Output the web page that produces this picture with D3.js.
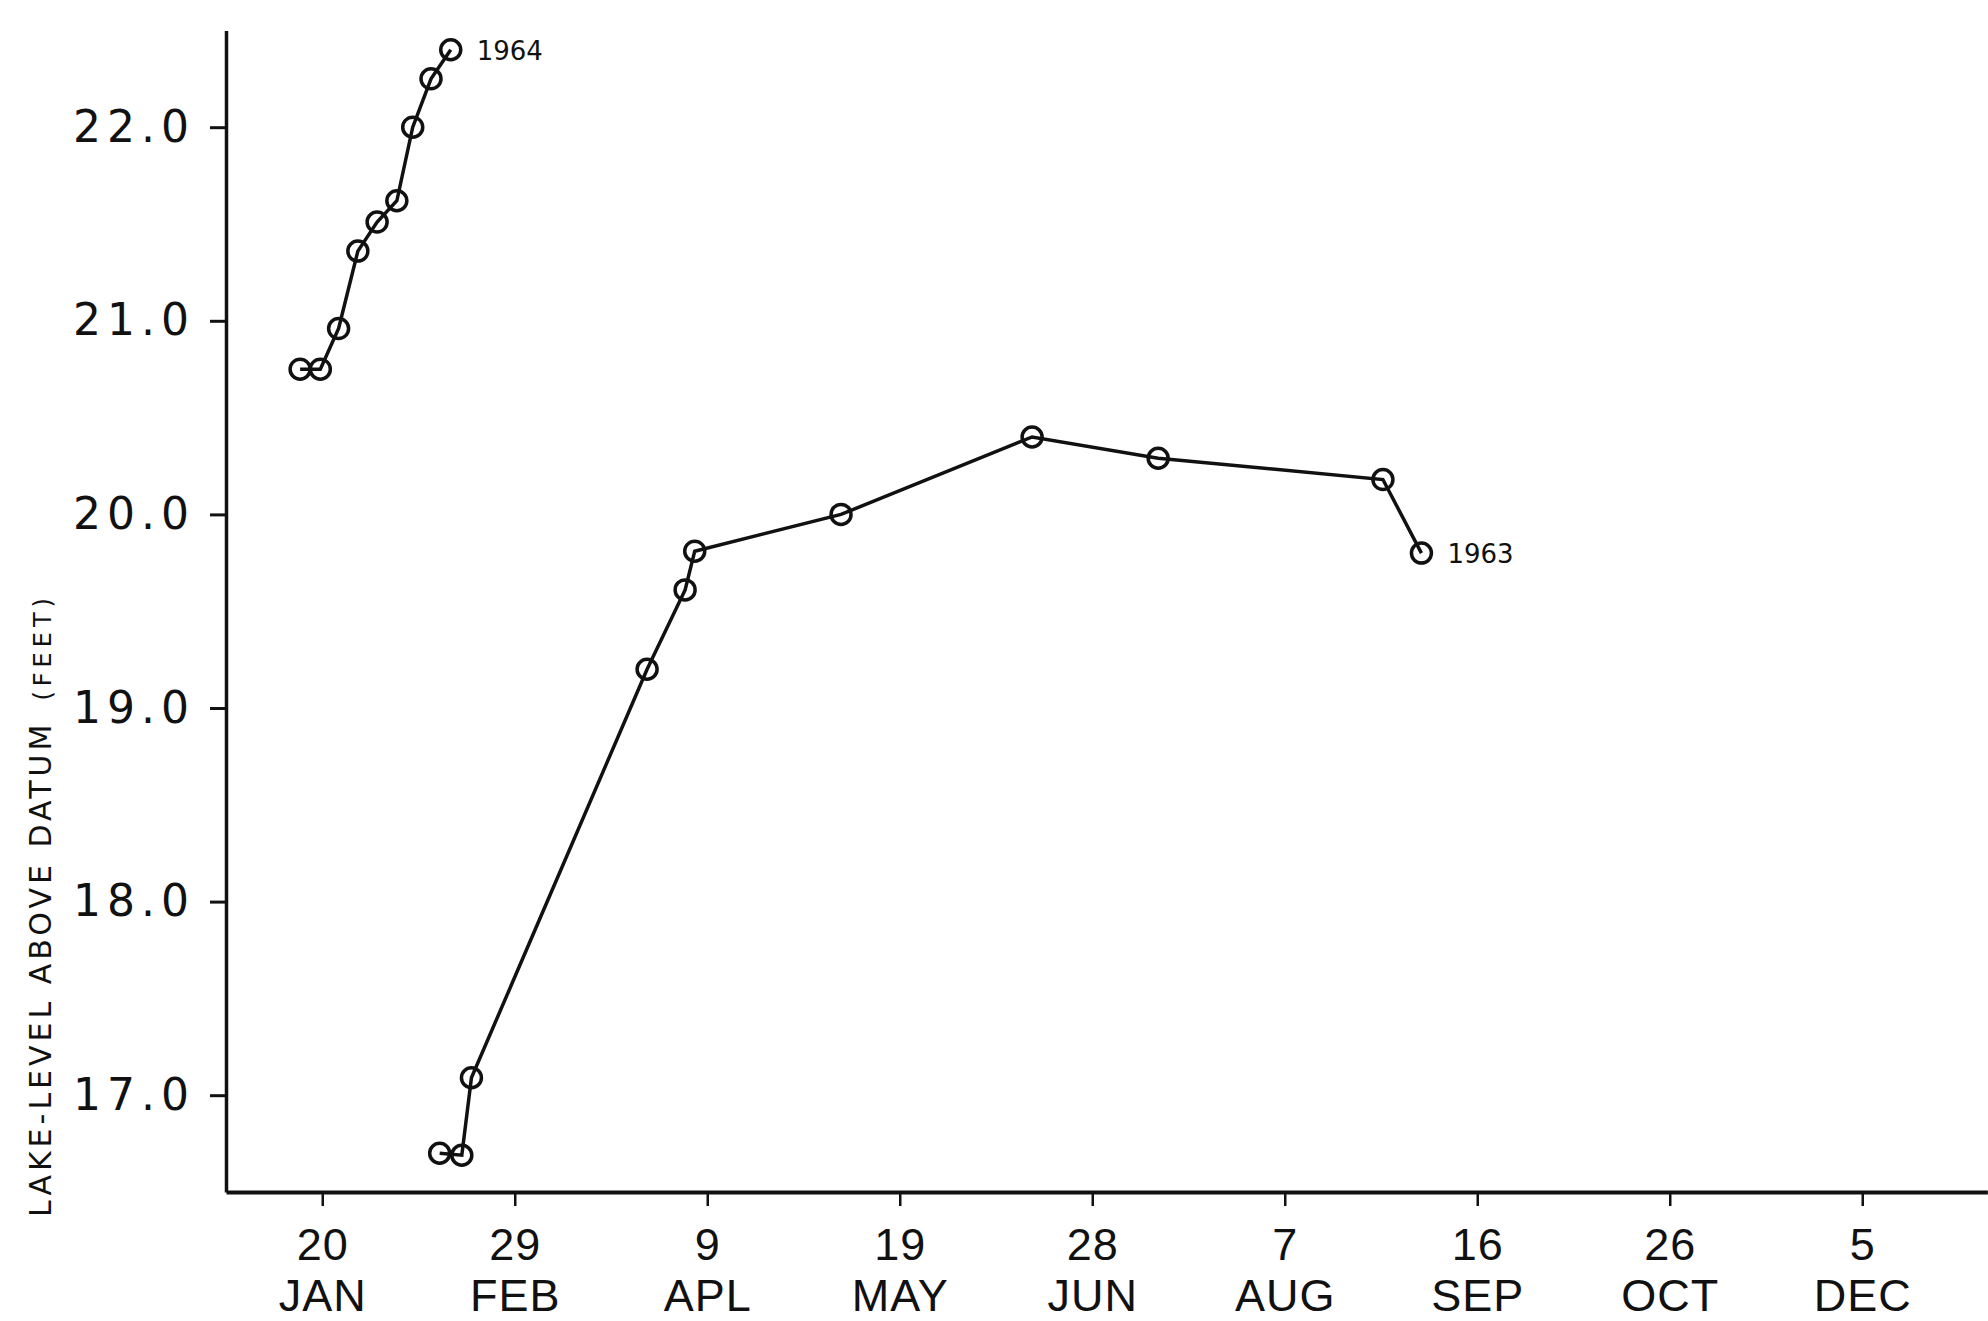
<!DOCTYPE html>
<html>
<head>
<meta charset="utf-8">
<script src="https://cdn.jsdelivr.net/npm/d3@7"></script>
<style>
  body { margin: 0; background: #fff; }
  .axis path, .axis line { stroke: #111; }
  .ylab text { font-family: "DejaVu Sans", sans-serif; font-size: 44px; letter-spacing: 6px; fill: #111; }
  .xlab text { font-family: "Liberation Sans", Arial, sans-serif; font-size: 45px; letter-spacing: 1px; fill: #111; }
</style>
</head>
<body>
<script>
// day of year (1964 calendar) for each reading, and lake level in feet
var days1964 = [15.4, 19.6, 23.4, 27.4, 31.4, 35.5, 38.8, 42.6, 46.7];
var level1964 = [20.75, 20.75, 20.96, 21.36, 21.51, 21.62, 22.00, 22.25, 22.40];

var days1963 = [44.4, 49.0, 51.0, 87.5, 95.4, 97.4, 127.8, 167.5, 193.7, 240.4, 248.4];
var level1963 = [16.70, 16.69, 17.09, 19.20, 19.61, 19.81, 20.00, 20.40, 20.29, 20.18, 19.80];

// x ticks every 40 days
var tickDays = [20, 60, 100, 140, 180, 220, 260, 300, 340];
var tickDayLabels = ["20", "29", "9", "19", "28", "7", "16", "26", "5"];
var tickMonths = ["JAN", "FEB", "APL", "MAY", "JUN", "AUG", "SEP", "OCT", "DEC"];
var yTicks = [17, 18, 19, 20, 21, 22];

var width = 1988, height = 1321;

var svg = d3.select("body").append("svg")
    .attr("width", width)
    .attr("height", height);

var xScale = d3.scaleLinear()
    .domain([0, 366])
    .range([226, 226 + 366 * 4.8125]);

var yScale = d3.scaleLinear()
    .domain([16.5, 22.5])
    .range([1192, 1192 - 6 * 193.6]);

// X axis
var xAxis = d3.axisBottom(xScale)
    .tickValues(tickDays)
    .tickSize(14)
    .tickSizeOuter(0)
    .tickFormat((d, i) => tickDayLabels[i]);

var gx = svg.append("g")
    .attr("class", "axis xlab")
    .attr("transform", "translate(0," + yScale(16.5) + ")")
    .call(xAxis);

gx.select(".domain").attr("stroke-width", 4);
gx.selectAll(".tick line").attr("stroke-width", 2.5);
gx.selectAll(".tick text")
    .attr("y", 68)
    .attr("dy", null);
gx.selectAll(".tick")
    .append("text")
    .attr("fill", "#111")
    .attr("y", 119)
    .text((d, i) => tickMonths[i]);

// Y axis
var yAxis = d3.axisLeft(yScale)
    .tickValues(yTicks)
    .tickSize(16)
    .tickSizeOuter(0)
    .tickPadding(15)
    .tickFormat(d3.format(".1f"));

var gy = svg.append("g")
    .attr("class", "axis ylab")
    .attr("transform", "translate(" + xScale(0) + ",0)")
    .call(yAxis);

gy.select(".domain").attr("stroke-width", 3.5);
gy.selectAll(".tick line").attr("stroke-width", 3);

// axis title
var title = svg.append("text")
    .attr("transform", "translate(51,1217) rotate(-90)")
    .style("font-family", "DejaVu Sans, sans-serif")
    .style("fill", "#111");
title.append("tspan")
    .style("font-size", "30px")
    .style("letter-spacing", "4px")
    .text("LAKE-LEVEL ABOVE DATUM");
title.append("tspan")
    .attr("dx", 20)
    .style("font-size", "24px")
    .style("letter-spacing", "5px")
    .text("(FEET)");

// series
var line = d3.line()
    .x(d => xScale(d[0]))
    .y(d => yScale(d[1]));

function drawSeries(days, levels, label) {
    var pts = days.map((d, i) => [d, levels[i]]);

    svg.append("path")
        .datum(pts)
        .attr("fill", "none")
        .attr("stroke", "#111")
        .attr("stroke-width", 3.5)
        .attr("d", line);

    svg.selectAll(null)
        .data(pts)
        .enter()
        .append("circle")
        .attr("cx", d => xScale(d[0]))
        .attr("cy", d => yScale(d[1]))
        .attr("r", 10)
        .attr("fill", "none")
        .attr("stroke", "#111")
        .attr("stroke-width", 3.5);

    var last = pts[pts.length - 1];
    svg.append("text")
        .attr("x", xScale(last[0]) + 26)
        .attr("y", yScale(last[1]) + 10)
        .style("font-family", "DejaVu Sans, sans-serif")
        .style("font-size", "26px")
        .style("fill", "#111")
        .text(label);
}

drawSeries(days1964, level1964, "1964");
drawSeries(days1963, level1963, "1963");
</script>
</body>
</html>
